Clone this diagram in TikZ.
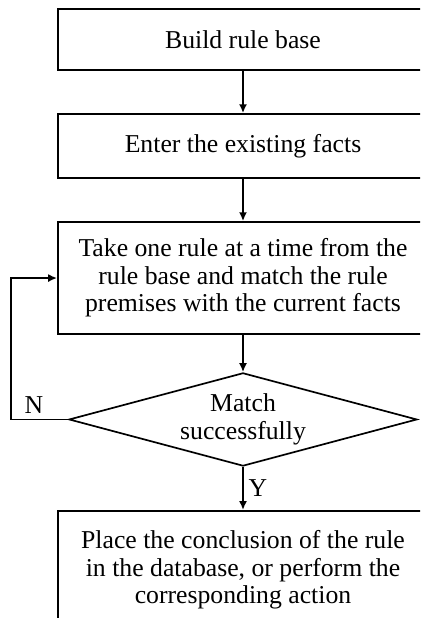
\documentclass[tikz,border=0pt]{standalone}
\usepackage{fontspec}
\setmainfont{Liberation Serif}
\usepackage{tikz}
\usetikzlibrary{shapes.geometric, arrows.meta, positioning}

\begin{document}
\begin{tikzpicture}[
                node distance=1.05cm,
                box/.style={rectangle, draw=black, line width=1.4pt, minimum width=9.25cm, align=center, font=\fontsize{18.3}{19.5}\selectfont},
                decision/.style={diamond, draw=black, line width=1.2pt, minimum width=8.7cm, minimum height=2.33cm, aspect=3.7, inner sep=0pt, align=center, font=\fontsize{18.3}{19.5}\selectfont},
                arrow/.style={-{Latex[length=2.2mm, width=2mm]}, line width=1.2pt}
            ]
                \clip (0,0) rectangle (10.5,-15.45);
                \node[box, minimum height=1.525cm] (build) at (6.075,-0.99) {Build rule base};
                \node[box, minimum height=1.6cm, below=of build] (facts) {Enter the existing facts};
                \node[box, minimum height=2.8cm, below=of facts] (take) {Take one rule at a time from the\\rule base and match the rule\\premises with the current facts};
                \node[decision, below=0.925cm of take] (check) {Match\\successfully};
                \node[box, minimum height=2.95cm, below=1.075cm of check] (act) {Place the conclusion of the rule\\in the database, or perform the\\corresponding action};
                \coordinate[left=1.425cm of check.west] (nturn);

                \draw[arrow] (build) -- (facts);
                \draw[arrow] (facts) -- (take);
                \draw[arrow] (take) -- (check);
                \draw[arrow] (check) -- node[right, font=\fontsize{18.3}{19.5}\selectfont] {Y} (act);
                \draw[arrow] (check.west) -- node[above, pos=0.6, font=\fontsize{18.3}{19.5}\selectfont] {N} (nturn) |- (take.west);
            \end{tikzpicture}
\end{document}
